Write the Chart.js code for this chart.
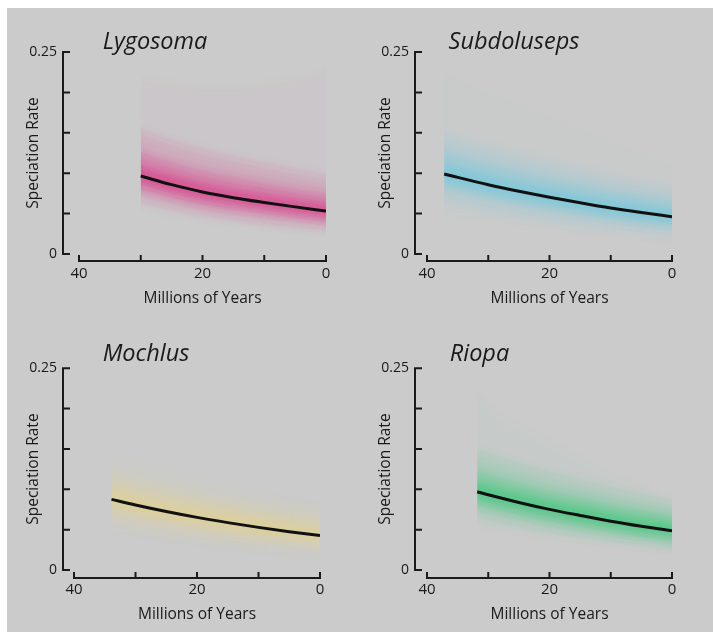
<!DOCTYPE html>
<html><head><meta charset="utf-8">
<script src="https://cdn.jsdelivr.net/npm/chart.js@4.4.0/dist/chart.umd.min.js"></script>
<style>
html,body{margin:0;padding:0;background:#fff;width:713px;height:632px;overflow:hidden;position:relative;}
#bg{position:absolute;left:7px;top:8px;width:706px;height:624px;background:#cbcbcb;}
canvas{position:absolute;}
</style></head><body>
<svg width="0" height="0" style="position:absolute">
  <filter id="vblur" filterUnits="userSpaceOnUse" x="-2000" y="-2000" width="6000" height="6000">
    <feGaussianBlur stdDeviation="0 4.5"/>
  </filter>
</svg>
<div id="bg"></div>
<canvas id="c1"></canvas>
<canvas id="c2"></canvas>
<canvas id="c3"></canvas>
<canvas id="c4"></canvas>
<script>
// ---- Axis ticks ----
const yTicks = [0, 0.05, 0.1, 0.15, 0.2, 0.25];
const yTickLabels = ['0', '', '', '', '', '0.25'];
const xTicks = [40, 30, 20, 10, 0];
const xTickLabels = ['40', '', '20', '', '0'];
const cladeNames = ['Lygosoma', 'Subdoluseps', 'Mochlus', 'Riopa'];

// ---- Lygosoma ----
const lygosomaTimes = [30, 25, 20, 15, 10, 5, 0];
const lygosomaRate  = [0.0965, 0.0858, 0.0767, 0.0697, 0.0638, 0.0583, 0.0532];
const lygosomaHi95  = [0.215, 0.21, 0.205, 0.205, 0.21, 0.215, 0.225];
const lygosomaLo95  = [0.058, 0.050, 0.044, 0.039, 0.035, 0.032, 0.029];
const lygosomaHi80  = [0.1515, 0.1386, 0.1274, 0.1182, 0.1101, 0.1025, 0.0952];
const lygosomaLo80  = [0.0665, 0.0571, 0.0494, 0.0437, 0.0391, 0.0349, 0.0312];
const lygosomaHi50  = [0.1265, 0.1145, 0.1041, 0.0958, 0.0886, 0.0818, 0.0752];
const lygosomaLo50  = [0.0785, 0.0686, 0.0604, 0.0543, 0.0493, 0.0446, 0.0402];
const lygosomaHi20  = [0.1085, 0.0973, 0.0877, 0.0802, 0.0738, 0.0678, 0.0622];
const lygosomaLo20  = [0.0875, 0.0771, 0.0684, 0.0618, 0.0563, 0.0511, 0.0462];

// ---- Subdoluseps ----
const subdolusepsTimes = [37.2, 30, 25, 20, 15, 10, 5, 0];
const subdolusepsRate  = [0.099, 0.0858, 0.0777, 0.0703, 0.0633, 0.0568, 0.0513, 0.0462];
const subdolusepsHi95  = [0.22, 0.195, 0.18, 0.165, 0.15, 0.135, 0.12, 0.105];
const subdolusepsLo95  = [0.05, 0.043, 0.039, 0.035, 0.031, 0.027, 0.023, 0.020];
const subdolusepsHi80  = [0.149, 0.1329, 0.1228, 0.1134, 0.1044, 0.0958, 0.0883, 0.0812];
const subdolusepsLo80  = [0.064, 0.0533, 0.047, 0.0413, 0.036, 0.0313, 0.0276, 0.0242];
const subdolusepsHi50  = [0.127, 0.1123, 0.1031, 0.0946, 0.0865, 0.079, 0.0724, 0.0662];
const subdolusepsLo50  = [0.081, 0.069, 0.0617, 0.0551, 0.0489, 0.0432, 0.0385, 0.0342];
const subdolusepsHi20  = [0.11, 0.0963, 0.0878, 0.08, 0.0727, 0.0659, 0.0601, 0.0542];
const subdolusepsLo20  = [0.091, 0.0779, 0.0699, 0.0626, 0.0559, 0.0496, 0.0443, 0.0402];

// ---- Mochlus ----
const mochlusTimes = [33.9, 30, 25, 20, 15, 10, 5, 0];
const mochlusRate  = [0.0875, 0.0806, 0.0725, 0.0652, 0.0587, 0.0528, 0.0475, 0.0427];
const mochlusHi95  = [0.14, 0.132, 0.123, 0.115, 0.105, 0.095, 0.085, 0.075];
const mochlusLo95  = [0.05, 0.046, 0.04, 0.035, 0.031, 0.027, 0.024, 0.021];
const mochlusHi80  = [0.1255, 0.1177, 0.1084, 0.0999, 0.0922, 0.0852, 0.0787, 0.0727];
const mochlusLo80  = [0.0575, 0.052, 0.0456, 0.0401, 0.0353, 0.0312, 0.0277, 0.0247];
const mochlusHi50  = [0.1095, 0.102, 0.0932, 0.0852, 0.078, 0.0714, 0.0653, 0.0597];
const mochlusLo50  = [0.0715, 0.0652, 0.0578, 0.0513, 0.0455, 0.0403, 0.0358, 0.0317];
const mochlusHi20  = [0.0965, 0.0895, 0.0812, 0.0738, 0.0671, 0.0611, 0.0556, 0.0497];
const mochlusLo20  = [0.0805, 0.0737, 0.0658, 0.0588, 0.0526, 0.0471, 0.0422, 0.0377];

// ---- Riopa ----
const riopaTimes = [31.8, 30, 25, 20, 15, 10, 5, 0];
const riopaRate  = [0.0969, 0.0932, 0.0837, 0.0751, 0.0676, 0.0605, 0.0543, 0.0487];
const riopaHi95  = [0.22, 0.205, 0.18, 0.16, 0.14, 0.12, 0.105, 0.09];
const riopaLo95  = [0.052, 0.05, 0.045, 0.04, 0.036, 0.032, 0.029, 0.026];
const riopaHi80  = [0.1469, 0.1424, 0.1305, 0.1195, 0.1097, 0.1002, 0.0917, 0.0837];
const riopaLo80  = [0.0669, 0.0638, 0.0558, 0.0488, 0.0429, 0.0374, 0.0327, 0.0287];
const riopaHi50  = [0.1239, 0.1198, 0.1092, 0.0995, 0.0909, 0.0827, 0.0754, 0.0687];
const riopaLo50  = [0.0789, 0.0755, 0.0668, 0.059, 0.0522, 0.0459, 0.0405, 0.0357];
const riopaHi20  = [0.1079, 0.1041, 0.0943, 0.0855, 0.0777, 0.0703, 0.0638, 0.0577];
const riopaLo20  = [0.0889, 0.0853, 0.076, 0.0678, 0.0607, 0.0538, 0.0478, 0.0427];

// ---- styles / layout (not data) ----
const FONT = "'Open Sans', 'DejaVu Sans', sans-serif";
const TEXT = '#1a1a1a';
const bandAlphas = [0.025, 0.16, 0.3, 0.5];
const PAD_R = 20;

const panels = [
  { canvas:'c1', name:cladeNames[0], times:lygosomaTimes, rate:lygosomaRate,
    bands:[[lygosomaHi95,lygosomaLo95],[lygosomaHi80,lygosomaLo80],[lygosomaHi50,lygosomaLo50],[lygosomaHi20,lygosomaLo20]],
    rgb:[220,40,130], left:-16, top:0, plotRight:326, yW:95, gap:16, drop:7, yTitlePad:40.5, tPadTop:32, tPadBot:0 },
  { canvas:'c2', name:cladeNames[1], times:subdolusepsTimes, rate:subdolusepsRate,
    bands:[[subdolusepsHi95,subdolusepsLo95],[subdolusepsHi80,subdolusepsLo80],[subdolusepsHi50,subdolusepsLo50],[subdolusepsHi20,subdolusepsLo20]],
    rgb:[100,200,222], left:356, top:0, plotRight:672, yW:71, gap:12, drop:7, yTitlePad:20, tPadTop:32, tPadBot:0 },
  { canvas:'c3', name:cladeNames[2], times:mochlusTimes, rate:mochlusRate,
    bands:[[mochlusHi95,mochlusLo95],[mochlusHi80,mochlusLo80],[mochlusHi50,mochlusLo50],[mochlusHi20,mochlusLo20]],
    rgb:[228,210,135], left:-28, top:316, plotRight:320, yW:102, gap:11, drop:8, yTitlePad:52.5, tPadTop:28.1, tPadBot:4.1 },
  { canvas:'c4', name:cladeNames[3], times:riopaTimes, rate:riopaRate,
    bands:[[riopaHi95,riopaLo95],[riopaHi80,riopaLo80],[riopaHi50,riopaLo50],[riopaHi20,riopaLo20]],
    rgb:[40,200,110], left:287, top:316, plotRight:672, yW:140, gap:12, drop:8, yTitlePad:89.5, tPadTop:28.1, tPadBot:4.1 }
];

// soften the stacked band fills vertically (density look)
const bandBlurPlugin = {
  id: 'bandBlur',
  afterDatasetDraw(chart, args) {
    if (args.index >= 2) chart.ctx.filter = 'url(#vblur)';
  },
  beforeDatasetDraw(chart, args) {
    if (args.index === 0) chart.ctx.filter = 'none';
  },
  afterDatasetsDraw(chart) { chart.ctx.filter = 'none'; }
};

const axesPlugin = {
  id: 'detachedAxes',
  afterDraw(chart, args, opts) {
    const {ctx, chartArea, scales} = chart;
    const x = scales.x, y = scales.y;
    ctx.save();
    ctx.filter = 'none';
    ctx.strokeStyle = TEXT;
    ctx.lineWidth = 2;
    ctx.lineCap = 'butt';
    ctx.beginPath();
    const ax = chartArea.left - opts.gap;
    const yb = y.getPixelForValue(yTicks[0]);
    const yt = y.getPixelForValue(yTicks[yTicks.length - 1]);
    ctx.moveTo(ax, yb + 1); ctx.lineTo(ax, yt - 1);
    yTicks.forEach(v => { const p = y.getPixelForValue(v); ctx.moveTo(ax, p); ctx.lineTo(ax + 7, p); });
    const ay = chartArea.bottom + opts.drop;
    const xl = x.getPixelForValue(xTicks[0]);
    const xr = x.getPixelForValue(xTicks[xTicks.length - 1]);
    ctx.moveTo(xl - 1, ay); ctx.lineTo(xr + 1, ay);
    xTicks.forEach(v => { const p = x.getPixelForValue(v); ctx.moveTo(p, ay); ctx.lineTo(p, ay - 6); });
    ctx.stroke();
    ctx.restore();
  }
};

function xy(times, vals) { return times.map((t, i) => ({x: t, y: vals[i]})); }

panels.forEach(p => {
  const cv = document.getElementById(p.canvas);
  const w = p.plotRight - p.left + PAD_R;
  cv.width = w; cv.height = 316;
  cv.style.left = p.left + 'px'; cv.style.top = p.top + 'px';
  cv.style.width = w + 'px'; cv.style.height = '316px';
  const [r, g, b] = p.rgb;
  const datasets = [{
    data: xy(p.times, p.rate), borderColor: '#111', borderWidth: 3, pointRadius: 0,
    fill: false, cubicInterpolationMode: 'monotone', borderCapStyle: 'butt'
  }];
  for (let k = p.bands.length - 1; k >= 0; k--) {
    const [hi, lo] = p.bands[k];
    datasets.push({ data: xy(p.times, hi), fill: '+1', backgroundColor: `rgba(${r},${g},${b},${bandAlphas[k]})`,
      borderColor: 'transparent', borderWidth: 0, pointRadius: 0, cubicInterpolationMode: 'monotone' });
    datasets.push({ data: xy(p.times, lo), fill: false, borderColor: 'transparent', borderWidth: 0,
      pointRadius: 0, cubicInterpolationMode: 'monotone' });
  }
  new Chart(cv, {
    type: 'line',
    data: { datasets },
    plugins: [bandBlurPlugin, axesPlugin],
    options: {
      responsive: false, animation: false, devicePixelRatio: 1,
      layout: { padding: { left: 0, right: PAD_R, top: 0, bottom: 2 } },
      plugins: {
        legend: { display: false }, tooltip: { enabled: false },
        title: { display: true, text: p.name, align: 'center', color: TEXT,
          font: { family: FONT, size: 23.5, style: 'italic', weight: 'normal', lineHeight: 0.85 },
          padding: { top: p.tPadTop, bottom: p.tPadBot } },
        detachedAxes: { gap: p.gap, drop: p.drop }
      },
      scales: {
        x: {
          type: 'linear', reverse: true, min: 0, max: 40,
          grid: { display: false, drawTicks: false }, border: { display: false },
          afterBuildTicks: s => { s.ticks = xTicks.map(v => ({value: v})); },
          afterFit: s => { s.height = 60; },
          ticks: { autoSkip: false, maxRotation: 0, padding: 11, color: TEXT,
            font: { family: FONT, size: 15 },
            callback: v => xTickLabels[xTicks.indexOf(v)] },
          title: { display: true, text: 'Millions of Years', color: TEXT,
            font: { family: FONT, size: 15.5 }, padding: { top: 0, bottom: 6 } }
        },
        y: {
          type: 'linear', min: 0, max: 0.25,
          grid: { display: false, drawTicks: false }, border: { display: false },
          afterBuildTicks: s => { s.ticks = yTicks.map(v => ({value: v})); },
          afterFit: s => { s.width = p.yW; },
          ticks: { autoSkip: false, padding: p.gap + 6, color: TEXT,
            font: { family: FONT, size: 14 },
            callback: v => yTickLabels[yTicks.indexOf(v)] },
          title: { display: true, text: 'Speciation Rate', color: TEXT,
            font: { family: FONT, size: 15.5 }, padding: { top: p.yTitlePad, bottom: 0 } }
        }
      }
    }
  });
});
</script>
</body></html>
